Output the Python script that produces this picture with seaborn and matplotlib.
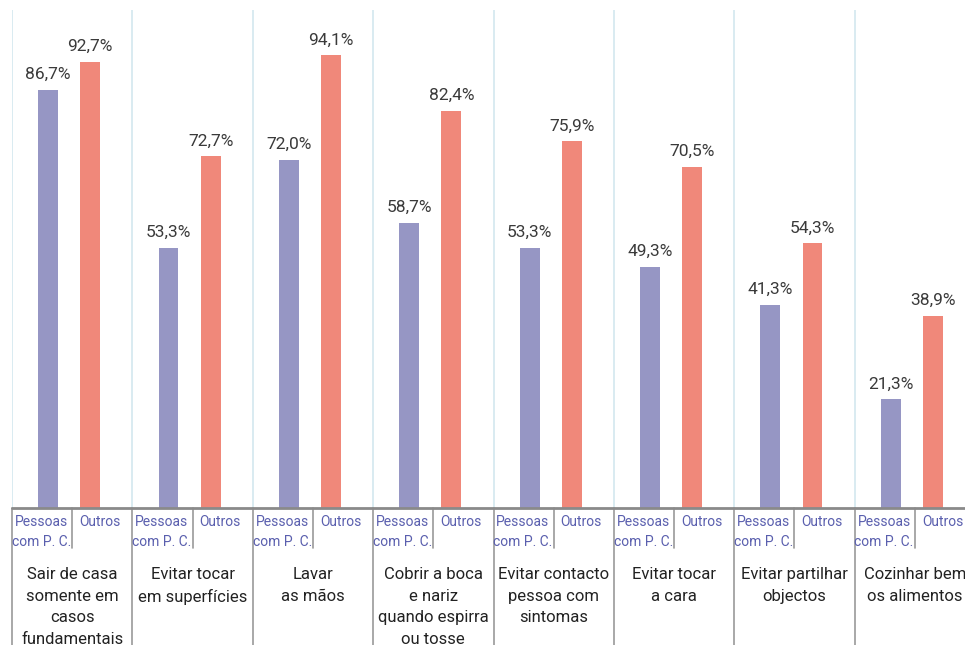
import matplotlib
matplotlib.use("Agg")
import matplotlib.pyplot as plt
import matplotlib.transforms as mtransforms
import seaborn as sns
import pandas as pd

categories = ["Sair de casa\nsomente em\ncasos\nfundamentais",
              "Evitar tocar\nem superfícies",
              "Lavar\nas mãos",
              "Cobrir a boca\ne nariz\nquando espirra\nou tosse",
              "Evitar contacto\npessoa com\nsintomas",
              "Evitar tocar\na cara",
              "Evitar partilhar\nobjectos",
              "Cozinhar bem\nos alimentos"]
groups = ["Pessoas\ncom P. C.", "Outros"]
pessoas = [86.7, 53.3, 72.0, 58.7, 53.3, 49.3, 41.3, 21.3]
outros = [92.7, 72.7, 94.1, 82.4, 75.9, 70.5, 54.3, 38.9]

sns.set_theme(style="white")
plt.rcParams["font.family"] = ["Roboto", "DejaVu Sans"]

df = pd.DataFrame({
    "cat": list(range(len(categories))) * 2,
    "grp": [groups[0]] * len(pessoas) + [groups[1]] * len(outros),
    "val": pessoas + outros,
})

W, H = 965, 645
fig = plt.figure(figsize=(W / 100, H / 100), dpi=100)
left_px, right_px, top_px, bot_px = 12, 975, 10, 508
ax = fig.add_axes([left_px / W, (H - bot_px) / H, (right_px - left_px) / W, (bot_px - top_px) / H])

purple = "#9696c4"
red = "#f0887a"
sns.barplot(data=df, x="cat", y="val", hue="grp", hue_order=groups,
            palette=[purple, red], width=0.7, gap=0.526, ax=ax,
            legend=False, saturation=1, order=list(range(len(categories))))

y0 = -1.7
ax.set_ylim(y0, 103.7)
ax.set_xlim(-0.475, len(categories) - 0.475)
for p in ax.patches:
    h = p.get_height()
    p.set_y(y0)
    p.set_height(h - y0)
    p.set_linewidth(0)

# value labels
for bars, vals in zip(ax.containers, [pessoas, outros]):
    for b, v in zip(bars, vals):
        ax.annotate(f"{v:.1f}%".replace(".", ","),
                    (b.get_x() + b.get_width() / 2, v), xytext=(0, 8),
                    textcoords="offset pixels",
                    ha="center", va="bottom", fontsize=12.5, color="#3a3a3a")

for s in ax.spines.values():
    s.set_visible(False)
ax.set_xticks([])
ax.set_yticks([])
ax.set_xlabel("")
ax.set_ylabel("")

# vertical light-blue lines
for i in range(len(categories) + 1):
    ax.axvline(i - 0.475, color="#d3e8ef", lw=1.2, zorder=0)

# axis line
ax.axhline(y0, color="#8a8a8a", lw=2, zorder=3, clip_on=False)

trans = mtransforms.blended_transform_factory(ax.transData, fig.transFigure)
def fy(px):
    return (H - px) / H

for i, cat in enumerate(categories):
    g0 = i - 0.475
    ax.plot([g0, g0], [fy(bot_px), fy(H)], transform=trans, color="#9a9a9a",
            lw=1.2, clip_on=False)
    ax.plot([g0 + 0.5, g0 + 0.5], [fy(bot_px), fy(548)], transform=trans,
            color="#9a9a9a", lw=1.2, clip_on=False)
    ax.text(g0 + 0.245, fy(515), groups[0], transform=trans, ha="center",
            va="top", fontsize=10, color="#5a5fae", linespacing=1.55)
    ax.text(g0 + 0.73, fy(515), groups[1], transform=trans, ha="center",
            va="top", fontsize=10, color="#5a5fae")
    ax.text(g0 + 0.5, fy(567), cat, transform=trans, ha="center", va="top",
            fontsize=12, color="#222222", linespacing=1.55)
ax.plot([len(categories) - 0.475] * 2, [fy(bot_px), fy(H)], transform=trans,
        color="#9a9a9a", lw=1.2, clip_on=False)

fig.savefig("out.png", dpi=100)
